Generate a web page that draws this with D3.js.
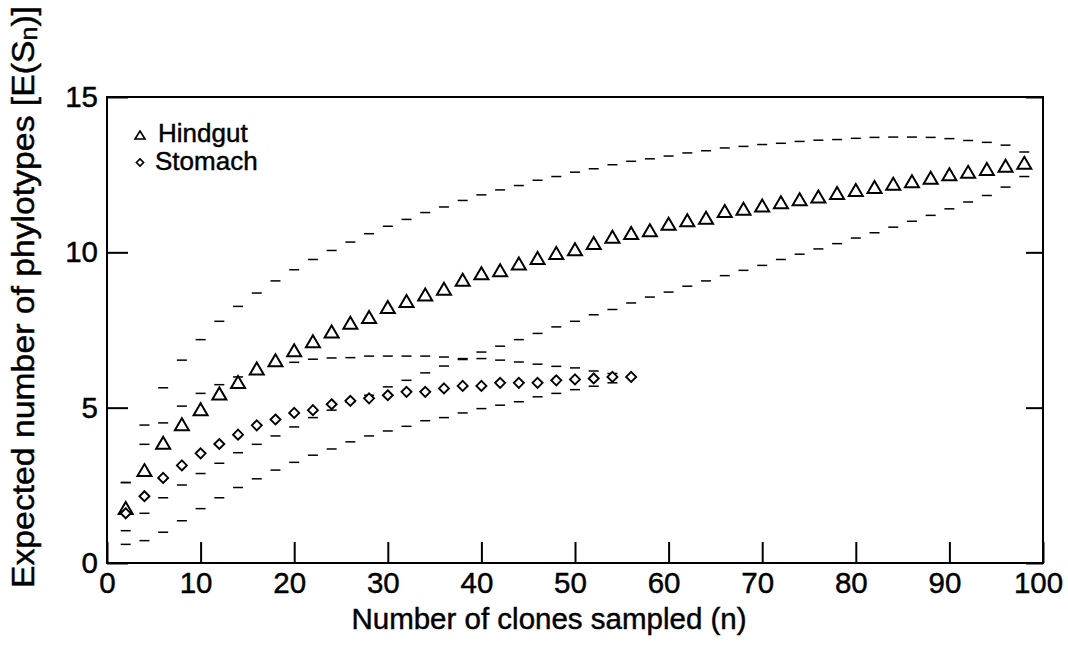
<!DOCTYPE html>
<html>
<head>
<meta charset="utf-8">
<script src="https://cdn.jsdelivr.net/npm/d3@7"></script>
<style>
  body { margin: 0; background: #fff; }
  svg { font-family: "Liberation Sans", Arial, sans-serif; }
  svg text { stroke: #000; stroke-width: 0.45px; }
</style>
</head>
<body>
<div id="my_dataviz"></div>
<script>
// values (n = 2, 4, 6 ...)
var hindgutN = d3.range(2, 100, 2);
var stomachN = d3.range(2, 58, 2);

var hindgut = [1.77, 2.99, 3.87, 4.47, 4.95, 5.46, 5.83, 6.26, 6.53, 6.85,
  7.14, 7.45, 7.73, 7.92, 8.24, 8.43, 8.64, 8.83, 9.12, 9.33,
  9.42, 9.64, 9.82, 9.98, 10.10, 10.30, 10.50, 10.62, 10.71, 10.92,
  11.03, 11.11, 11.33, 11.40, 11.51, 11.61, 11.71, 11.80, 11.91, 12.01,
  12.10, 12.21, 12.29, 12.40, 12.51, 12.59, 12.68, 12.79, 12.88];

var hindgutUpper = [2.59, 4.44, 5.64, 6.53, 7.19, 7.78, 8.26, 8.69, 9.08, 9.44,
  9.77, 10.06, 10.33, 10.60, 10.84, 11.06, 11.28, 11.46, 11.67, 11.85,
  12.01, 12.15, 12.32, 12.44, 12.58, 12.69, 12.82, 12.93, 13.01, 13.10,
  13.20, 13.27, 13.36, 13.41, 13.47, 13.51, 13.57, 13.61, 13.63, 13.67,
  13.70, 13.71, 13.71, 13.70, 13.66, 13.60, 13.54, 13.45, 13.23];

var hindgutLower = [1.04, 1.60, 2.10, 2.51, 2.88, 3.21, 3.55, 3.82, 4.09, 4.38,
  4.68, 4.92, 5.17, 5.40, 5.67, 5.88, 6.12, 6.34, 6.55, 6.79,
  6.98, 7.19, 7.39, 7.60, 7.78, 7.99, 8.16, 8.37, 8.56, 8.72,
  8.91, 9.08, 9.25, 9.42, 9.58, 9.77, 9.94, 10.11, 10.28, 10.46,
  10.63, 10.81, 11.00, 11.19, 11.40, 11.62, 11.83, 12.10, 12.44];

var stomach = [1.60, 2.15, 2.74, 3.14, 3.53, 3.83, 4.13, 4.43, 4.62, 4.83,
  4.92, 5.11, 5.22, 5.30, 5.40, 5.51, 5.51, 5.62, 5.70, 5.70,
  5.80, 5.80, 5.80, 5.88, 5.91, 5.94, 5.99, 5.99];

var stomachUpper = [2.59, 3.82, 4.51, 5.05, 5.46, 5.74, 5.99, 6.21, 6.40, 6.46,
  6.56, 6.60, 6.61, 6.66, 6.66, 6.66, 6.66, 6.63, 6.58, 6.58,
  6.53, 6.47, 6.40, 6.33, 6.28, 6.18, 6.10, 6.00];

var stomachLower = [0.60, 0.72, 0.99, 1.36, 1.75, 2.10, 2.43, 2.71, 2.99, 3.24,
  3.47, 3.67, 3.90, 4.09, 4.25, 4.40, 4.58, 4.68, 4.83, 4.97,
  5.08, 5.19, 5.35, 5.46, 5.58, 5.69, 5.80, 6.00];

var xTicks = [0, 10, 20, 30, 40, 50, 60, 70, 80, 90, 100];
var yTicks = [0, 5, 10, 15];

// plot box
var box = {left: 107, right: 1043, top: 97, bottom: 563};

var svg = d3.select("#my_dataviz")
  .append("svg")
    .attr("width", 1068)
    .attr("height", 649);

var x = d3.scaleLinear().domain([0, 100]).range([box.left, box.right]);
var y = d3.scaleLinear().domain([0, 15]).range([box.bottom, box.top]);

// axes, ticks pointing inwards
var xAxis = d3.axisBottom(x)
  .tickValues(xTicks)
  .tickSizeInner(-21)
  .tickSizeOuter(0)
  .tickPadding(9);

var yAxis = d3.axisLeft(y)
  .tickValues(yTicks)
  .tickSizeInner(-21)
  .tickSizeOuter(0)
  .tickPadding(9);

var yAxisRight = d3.axisRight(y)
  .tickValues(yTicks)
  .tickSizeInner(-17)
  .tickSizeOuter(0)
  .tickFormat("");

var gx = svg.append("g")
  .attr("transform", "translate(0," + box.bottom + ")")
  .call(xAxis);

var gy = svg.append("g")
  .attr("transform", "translate(" + box.left + ",0)")
  .call(yAxis);

var gy2 = svg.append("g")
  .attr("transform", "translate(" + box.right + ",0)")
  .call(yAxisRight);

[gx, gy, gy2].forEach(function(g) {
  g.select(".domain").remove();
  g.selectAll(".tick line").attr("stroke", "#000").attr("stroke-width", 2);
  g.selectAll(".tick text")
    .attr("fill", "#000")
    .attr("font-size", 29.5)
    .attr("font-family", "Liberation Sans, Arial, sans-serif");
});
// labels sit a little left of their ticks in the original
gx.selectAll(".tick text").attr("dx", function(d) { return d === 0 ? 0 : -5; });

// frame
svg.append("rect")
  .attr("x", box.left)
  .attr("y", box.top)
  .attr("width", box.right - box.left)
  .attr("height", box.bottom - box.top)
  .attr("fill", "none")
  .attr("stroke", "#000")
  .attr("stroke-width", 2);

// confidence dashes
function dashes(ns, vals) {
  svg.append("g")
    .selectAll("line")
    .data(vals)
    .enter()
    .append("line")
      .attr("x1", function(d, i) { return x(ns[i]) - 5; })
      .attr("x2", function(d, i) { return x(ns[i]) + 5; })
      .attr("y1", function(d) { return y(d); })
      .attr("y2", function(d) { return y(d); })
      .attr("stroke", "#000")
      .attr("stroke-width", 1.5);
}
dashes(hindgutN, hindgutUpper);
dashes(hindgutN, hindgutLower);
dashes(stomachN, stomachUpper);
dashes(stomachN, stomachLower);

// triangle centred on its box, diamond
function triPath(cx, cy, w, h) {
  return "M" + cx + "," + (cy - h / 2) +
    "L" + (cx + w / 2) + "," + (cy + h / 2) +
    "L" + (cx - w / 2) + "," + (cy + h / 2) + "Z";
}
function diaPath(cx, cy, r) {
  return "M" + cx + "," + (cy - r) + "L" + (cx + r) + "," + cy +
    "L" + cx + "," + (cy + r) + "L" + (cx - r) + "," + cy + "Z";
}

svg.append("g")
  .selectAll("path")
  .data(hindgut)
  .enter()
  .append("path")
    .attr("d", function(d, i) { return triPath(x(hindgutN[i]), y(d), 14, 12); })
    .attr("fill", "#fff")
    .attr("stroke", "#000")
    .attr("stroke-width", 2);

svg.append("g")
  .selectAll("path")
  .data(stomach)
  .enter()
  .append("path")
    .attr("d", function(d, i) { return diaPath(x(stomachN[i]), y(d), 5); })
    .attr("fill", "#fff")
    .attr("stroke", "#000")
    .attr("stroke-width", 1.9);

// legend
svg.append("path")
  .attr("d", triPath(140, 135, 10, 8))
  .attr("fill", "#fff")
  .attr("stroke", "#000")
  .attr("stroke-width", 1.6);
svg.append("text")
  .attr("x", 158)
  .attr("y", 142)
  .attr("font-size", 26)
  .text("Hindgut");

svg.append("path")
  .attr("d", diaPath(140, 162.5, 3.6))
  .attr("fill", "#fff")
  .attr("stroke", "#000")
  .attr("stroke-width", 1.6);
svg.append("text")
  .attr("x", 155)
  .attr("y", 170)
  .attr("font-size", 26)
  .text("Stomach");

// axis titles
svg.append("text")
  .attr("x", 549)
  .attr("y", 629)
  .attr("text-anchor", "middle")
  .attr("font-size", 29.5)
  .text("Number of clones sampled (n)");

var yTitle = svg.append("text")
  .attr("transform", "translate(34,297) rotate(-90)")
  .attr("text-anchor", "middle")
  .attr("font-size", 31)
  .attr("textLength", 582)
  .attr("lengthAdjust", "spacingAndGlyphs");
yTitle.append("tspan").text("Expected number of phylotypes [E(S");
yTitle.append("tspan").attr("font-size", 23).attr("dy", 3).text("n");
yTitle.append("tspan").attr("dy", -3).text(")]");
</script>
</body>
</html>
